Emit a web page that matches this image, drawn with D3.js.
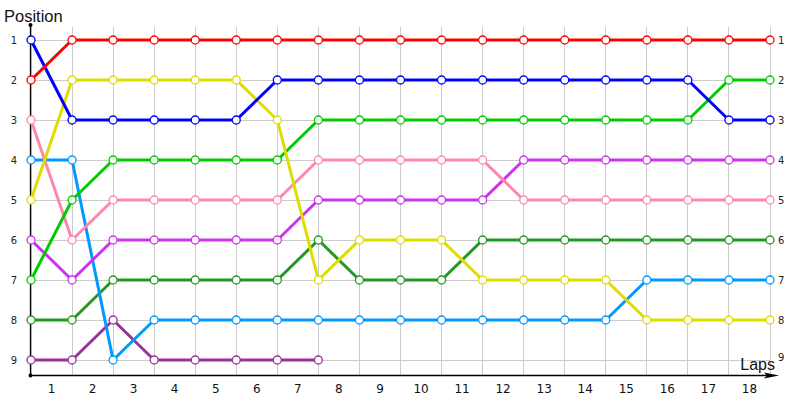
<!DOCTYPE html>
<html><head><meta charset="utf-8">
<script src="https://cdn.jsdelivr.net/npm/d3@7/dist/d3.min.js"></script>
<style>body{margin:0;background:#fff}svg{display:block}</style>
</head><body>
<svg id="c" width="800" height="400"></svg>
<script>
const laps = d3.range(0, 19); // lap boundaries 0..18
const lapLabels = ["1","2","3","4","5","6","7","8","9","10","11","12","13","14","15","16","17","18"];
const positions = [1,2,3,4,5,6,7,8,9];

const red       = [2,1,1,1,1,1,1,1,1,1,1,1,1,1,1,1,1,1,1];
const blue      = [1,3,3,3,3,3,2,2,2,2,2,2,2,2,2,2,2,3,3];
const yellow    = [5,2,2,2,2,2,3,7,6,6,6,7,7,7,7,8,8,8,8];
const green     = [7,5,4,4,4,4,4,3,3,3,3,3,3,3,3,3,3,2,2];
const pink      = [3,6,5,5,5,5,5,4,4,4,4,4,5,5,5,5,5,5,5];
const lightBlue = [4,4,9,8,8,8,8,8,8,8,8,8,8,8,8,7,7,7,7];
const magenta   = [6,7,6,6,6,6,6,5,5,5,5,5,4,4,4,4,4,4,4];
const darkGreen = [8,8,7,7,7,7,7,6,7,7,7,6,6,6,6,6,6,6,6];
const purple    = [9,9,8,9,9,9,9,9];

const series = [
  {v: purple,    c: "#993399"},
  {v: darkGreen, c: "#229922"},
  {v: lightBlue, c: "#0099ff"},
  {v: magenta,   c: "#cc33ee"},
  {v: pink,      c: "#ff88aa"},
  {v: green,     c: "#00cc00"},
  {v: yellow,    c: "#dddd00"},
  {v: blue,      c: "#0000ff"},
  {v: red,       c: "#ff0000"}
];

const svg = d3.select("#c");
const x = d3.scaleLinear().domain([0, 18]).range([31, 770]);
const y = d3.scaleLinear().domain([1, 9]).range([40, 360]);
const font = "DejaVu Sans, Verdana, sans-serif";

// grid
const g = svg.append("g");
g.selectAll("line.v").data(laps).join("line")
  .attr("x1", d => x(d)).attr("x2", d => x(d))
  .attr("y1", 27).attr("y2", 375)
  .attr("stroke", "#cccccc").attr("stroke-width", 1).attr("shape-rendering", "crispEdges");
g.selectAll("line.h").data(positions).join("line")
  .attr("x1", x(0)).attr("x2", x(18))
  .attr("y1", d => y(d)).attr("y2", d => y(d))
  .attr("stroke", "#cccccc").attr("stroke-width", 1).attr("shape-rendering", "crispEdges");

// axes
svg.append("line").attr("x1", 30.5).attr("x2", 30.5).attr("y1", 25).attr("y2", 375.5)
  .attr("stroke", "#000").attr("stroke-width", 1.3);
svg.append("line").attr("x1", 30.5).attr("x2", 772).attr("y1", 375.5).attr("y2", 375.5)
  .attr("stroke", "#000").attr("stroke-width", 1.3);
svg.append("circle").attr("cx", 30.5).attr("cy", 25).attr("r", 2).attr("fill", "#000");
svg.append("circle").attr("cx", 30.5).attr("cy", 375.5).attr("r", 2).attr("fill", "#000");
svg.append("path").attr("d", "M764,372.5 L779,375.5 L764,378.5 L767,375.5 Z").attr("fill", "#000");

// labels
svg.selectAll("text.yl").data(positions).join("text")
  .attr("x", 14).attr("y", d => y(d)).attr("dy", "0.36em")
  .attr("text-anchor", "middle").attr("font-family", font).attr("font-size", 10)
  .attr("fill", "#222").text(d => d);
svg.selectAll("text.yr").data(positions).join("text")
  .attr("x", 778).attr("y", d => y(d) - (d === 9 ? 3 : 0)).attr("dy", "0.36em")
  .attr("font-family", font).attr("font-size", 10)
  .attr("fill", "#222").text(d => d);
svg.selectAll("text.xl").data(lapLabels).join("text")
  .attr("x", (d, i) => (x(i) + x(i + 1)) / 2).attr("y", 393)
  .attr("text-anchor", "middle").attr("font-family", font).attr("font-size", 12)
  .attr("fill", "#111").text(d => d);
svg.append("text").attr("x", 4).attr("y", 22).attr("font-family", "Liberation Sans, Arial, sans-serif")
  .attr("font-size", 16.5).attr("fill", "#111").text("Position");
svg.append("text").attr("x", 775).attr("y", 370).attr("text-anchor", "end")
  .attr("font-family", "Liberation Sans, Arial, sans-serif")
  .attr("font-size", 16).attr("fill", "#111").text("Laps");

// series
const line = d3.line().x((d, i) => x(i)).y(d => y(d));
series.forEach(s => {
  svg.append("path").attr("d", line(s.v)).attr("fill", "none")
    .attr("stroke", s.c).attr("stroke-width", 3).attr("stroke-linejoin", "round");
});
series.forEach(s => {
  svg.append("g").selectAll("circle").data(s.v).join("circle")
    .attr("cx", (d, i) => x(i)).attr("cy", d => y(d)).attr("r", 4)
    .attr("fill", "#fff").attr("stroke", s.c).attr("stroke-width", 1.3);
});
</script>
</body></html>
